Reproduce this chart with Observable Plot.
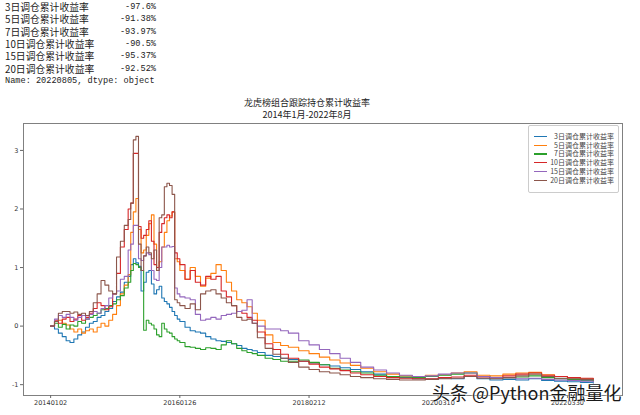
<!DOCTYPE html>
<html><head><meta charset="utf-8">
<script src="https://cdn.jsdelivr.net/npm/d3@7"></script>
<script src="https://cdn.jsdelivr.net/npm/@observablehq/plot@0.6"></script>
<style>
body{margin:0;background:#fff;width:640px;height:415px;position:relative;overflow:hidden;font-family:"Noto Sans CJK SC",sans-serif;}
#out{position:absolute;left:5px;top:1px;width:151px;color:#222;}
.row{display:flex;justify-content:space-between;height:12.35px;line-height:12.35px;white-space:pre;overflow:visible;}
.row span{display:inline-block;height:11px;line-height:12.35px;overflow:visible;}
.lab{font-size:9.8px;}
.val{font-family:"Liberation Mono",monospace;font-size:8.6px;}
.name{font-family:"Liberation Mono",monospace;font-size:8.6px;white-space:pre;line-height:12.35px;height:12px;}
#title{position:absolute;left:207px;width:200px;top:97px;text-align:center;font-size:9px;line-height:11.5px;color:#222;}
#chart{position:absolute;left:0;top:122px;}
#legend{position:absolute;left:528px;top:125px;width:89px;height:66px;border:1px solid #ccc;border-radius:2px;background:rgba(255,255,255,0.85);}
.lg{position:absolute;left:0;width:85px;height:8.7px;}
.lg .sw{position:absolute;left:5px;top:4px;width:13px;height:1.3px;}
.lg .tx{position:absolute;right:0;top:0;font-size:7px;line-height:8.7px;color:#444;white-space:nowrap;}
#wm{position:absolute;left:432px;top:381px;font-size:18px;line-height:22px;color:#1a1a1a;white-space:nowrap;text-shadow:0 0 2px #fff,0 0 2px #fff;}
</style></head>
<body>
<div id="out"></div>
<div id="title">龙虎榜组合跟踪持仓累计收益率<br>2014年1月-2022年8月</div>
<div id="chart"></div>
<div id="legend"></div>
<div id="wm">头条 @Python金融量化</div>
<script>
const seriesNames = ["3日调仓累计收益率","5日调仓累计收益率","7日调仓累计收益率","10日调仓累计收益率","15日调仓累计收益率","20日调仓累计收益率"];
const finalLabels = ["-97.6%","-91.38%","-93.97%","-90.5%","-95.37%","-92.52%"];
const nameLine = "Name: 20220805, dtype: object";
const colors = ["#1f77b4","#ff7f0e","#2ca02c","#d62728","#9467bd","#8c564b"];
const tickRows = [0,500,1000,1500,2000];
const tickLabels = ["20140102","20160126","20180212","20200310","20220330"];
const yTicks = [-1,0,1,2,3];
const rows = [0,15,30,45,60,75,90,105,120,135,150,165,180,195,210,225,240,255,270,285,300,
  310,320,330,340,350,360,370,380,390,400,410,420,430,440,450,460,470,480,490,500,
  520,540,560,580,600,620,640,660,680,700,720,740,760,780,800,
  830,860,890,920,960,1000,1040,1080,1120,1160,1200,
  1250,1300,1350,1400,1450,1500,1550,1600,1650,1700,1750,1800,1850,1900,1950,2000,2050,2100];
const s3 = [0,-0.05,-0.12,-0.18,-0.25,-0.28,-0.22,-0.15,-0.10,-0.02,0.05,0.08,0.15,0.18,0.25,0.30,0.42,0.50,0.58,0.75,0.85,
  1.05,1.15,1.08,1.02,0.60,0.75,0.92,0.95,0.72,0.55,0.62,0.68,0.48,0.42,0.38,0.32,0.25,0.18,0.12,0.08,
  -0.02,-0.08,-0.10,-0.12,-0.18,-0.22,-0.25,-0.26,-0.28,-0.30,-0.33,-0.38,-0.40,-0.42,-0.45,
  -0.50,-0.52,-0.55,-0.57,-0.60,-0.63,-0.66,-0.68,-0.71,-0.74,-0.78,
  -0.82,-0.86,-0.88,-0.90,-0.91,-0.89,-0.90,-0.86,-0.90,-0.92,-0.91,-0.92,-0.90,-0.93,-0.94,-0.95,-0.96,-0.976];
const s5 = [0,0.08,0.10,0.05,0.02,-0.05,-0.10,-0.05,-0.12,-0.08,-0.05,-0.10,-0.02,0.05,0.00,0.10,0.20,0.35,0.55,0.70,0.88,
  1.60,1.95,2.18,1.65,1.25,1.30,1.55,1.75,1.90,1.40,0.95,1.10,1.35,1.60,1.80,1.88,1.95,1.15,1.10,0.95,
  0.80,1.00,0.85,0.68,0.82,0.90,1.05,0.95,0.75,0.60,0.45,0.40,0.33,0.22,0.10,
  -0.15,-0.28,-0.33,-0.36,-0.42,-0.47,-0.53,-0.58,-0.63,-0.67,-0.72,
  -0.78,-0.82,-0.85,-0.86,-0.84,-0.83,-0.80,-0.78,-0.84,-0.85,-0.82,-0.80,-0.79,-0.83,-0.86,-0.88,-0.90,-0.9138];
const s7 = [0,0.05,-0.02,0.03,-0.05,0.02,0.00,0.08,0.05,0.12,0.15,0.18,0.22,0.28,0.30,0.35,0.38,0.45,0.52,0.65,0.75,
  0.95,1.07,1.05,1.00,0.95,-0.07,0.10,0.05,0.02,-0.05,-0.15,-0.18,0.05,-0.05,-0.10,-0.12,-0.18,-0.22,-0.25,-0.28,
  -0.35,-0.36,-0.38,-0.40,-0.37,-0.38,-0.40,-0.32,-0.25,-0.30,-0.38,-0.42,-0.45,-0.47,-0.50,
  -0.55,-0.57,-0.60,-0.60,-0.58,-0.62,-0.66,-0.72,-0.75,-0.78,-0.80,
  -0.84,-0.86,-0.87,-0.88,-0.86,-0.84,-0.82,-0.80,-0.86,-0.88,-0.88,-0.87,-0.85,-0.88,-0.90,-0.91,-0.93,-0.9397];
const s10 = [0,0.10,0.05,0.12,0.15,0.08,0.12,0.18,0.10,0.15,0.22,0.30,0.40,0.35,0.28,0.33,0.55,0.90,1.35,1.65,2.00,
  2.10,2.95,2.95,1.70,1.50,1.55,1.65,1.80,1.45,1.05,1.00,1.60,1.75,1.85,1.90,1.85,1.95,1.25,1.15,1.05,
  0.80,0.95,0.75,0.70,0.85,0.80,0.85,0.60,0.50,0.35,0.25,0.22,0.15,0.10,-0.10,
  -0.30,-0.40,-0.48,-0.55,-0.60,-0.65,-0.70,-0.73,-0.76,-0.80,-0.83,
  -0.86,-0.88,-0.89,-0.90,-0.90,-0.88,-0.87,-0.84,-0.87,-0.88,-0.85,-0.82,-0.80,-0.84,-0.86,-0.88,-0.89,-0.905];
const s15 = [0,0.12,0.18,0.15,0.20,0.15,0.10,0.15,0.18,0.12,0.20,0.25,0.22,0.30,0.35,0.48,0.55,0.60,0.80,0.85,1.30,
  1.40,1.72,1.72,1.15,1.12,1.20,1.25,1.22,0.95,0.80,0.78,1.00,1.35,1.35,1.38,1.35,1.36,0.65,0.55,0.50,
  0.48,0.45,0.20,0.10,0.12,0.15,0.12,0.18,0.20,0.22,0.25,0.27,0.45,0.05,0.00,
  -0.05,-0.05,-0.08,-0.12,-0.25,-0.32,-0.40,-0.47,-0.55,-0.62,-0.70,
  -0.75,-0.80,-0.84,-0.86,-0.85,-0.82,-0.80,-0.80,-0.86,-0.88,-0.88,-0.90,-0.89,-0.91,-0.92,-0.93,-0.94,-0.9537];
const s20 = [0,0.08,0.22,0.25,0.25,0.22,0.24,0.20,0.22,0.18,0.25,0.40,0.55,0.78,0.70,0.60,0.55,1.18,1.45,1.72,1.82,
  2.10,3.18,3.24,1.40,0.95,1.20,1.35,1.25,1.15,1.30,0.95,1.85,1.90,2.38,2.44,2.40,2.25,0.45,0.40,0.35,
  0.30,0.38,0.28,0.55,0.60,0.62,0.55,0.48,0.40,0.35,0.15,0.10,0.12,0.05,-0.20,
  -0.38,-0.48,-0.55,-0.62,-0.70,-0.74,-0.78,-0.80,-0.83,-0.86,-0.88,
  -0.90,-0.91,-0.92,-0.92,-0.91,-0.90,-0.89,-0.86,-0.89,-0.90,-0.88,-0.85,-0.82,-0.86,-0.89,-0.90,-0.91,-0.9252];

const seriesValues = [s3,s5,s7,s10,s15,s20];

// printed output block
const out = document.getElementById("out");
seriesNames.forEach((n,i)=>{
  const r = document.createElement("div"); r.className="row";
  r.innerHTML = `<span class="lab">${n}</span><span class="val">${finalLabels[i]}</span>`;
  out.appendChild(r);
});
const nm = document.createElement("div"); nm.className="name"; nm.textContent = nameLine; out.appendChild(nm);

// data table
const data = [];
seriesNames.forEach((n,i)=>{
  seriesValues[i].forEach((v,j)=>data.push({series:n,row:rows[j],value:v}));
});

const chart = Plot.plot({
  width: 640, height: 293,
  marginLeft: 23, marginRight: 18, marginTop: 1, marginBottom: 20,
  style: {fontFamily: "DejaVu Sans, sans-serif", fontSize: "6.5px", color: "#333", background: "transparent"},
  x: {domain: [-105, 2213]},
  y: {domain: [-1.185, 3.46]},
  color: {domain: seriesNames, range: colors},
  marks: [
    Plot.line(data, {x:"row", y:"value", z:"series", stroke:"series", curve:"step-after", strokeWidth:1.1}),
    Plot.frame({stroke:"#808080", strokeWidth:1}),
    Plot.axisX({ticks: tickRows, tickFormat: (d)=>tickLabels[tickRows.indexOf(d)], tickSize:3, tickPadding:2, label:null, stroke:"#666"}),
    Plot.axisY({ticks: yTicks, tickFormat: (d)=>String(d), tickSize:3, tickPadding:2, label:null, stroke:"#666"})
  ]
});
document.getElementById("chart").appendChild(chart);

// legend
const lg = document.getElementById("legend");
seriesNames.forEach((n,i)=>{
  const d = document.createElement("div"); d.className="lg"; d.style.top = (6 + i*8.7) + "px";
  d.innerHTML = `<span class="sw" style="background:${colors[i]}"></span><span class="tx">${n}</span>`;
  lg.appendChild(d);
});
</script>
</body></html>
